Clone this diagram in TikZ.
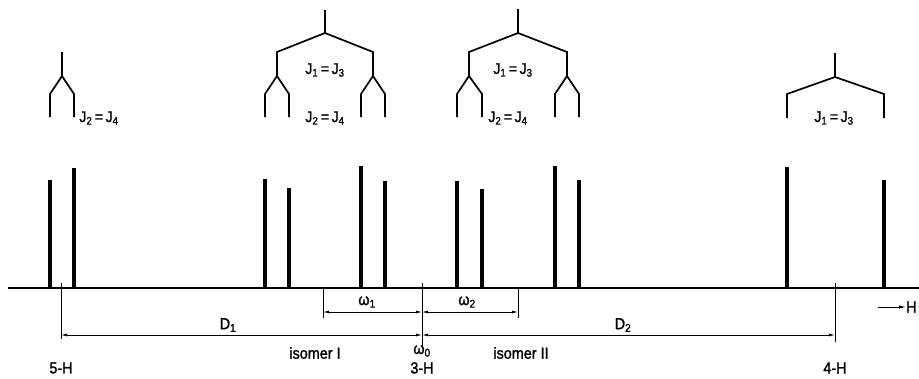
\documentclass[tikz,border=0pt]{standalone}
\usepackage{fontspec}
\setmainfont{Liberation Sans}
\newfontfamily\labfont[FakeStretch=0.9,FakeBold=1.5]{Liberation Sans}
\usetikzlibrary{arrows.meta}
\newcommand\lsub[1]{\textsubscript{#1}}
\begin{document}
\begin{tikzpicture}[x=1pt,y=-1pt,
  peak/.style={line width=3.6pt},
  tree/.style={line width=1.7pt, line join=miter},
  base/.style={line width=1.8pt},
  tickline/.style={line width=1pt},
  dimline/.style={line width=0.8pt, {Latex[length=6pt,width=3pt]}-{Latex[length=6pt,width=3pt]}},
  lab/.style={font=\labfont\fontsize{16}{18}\selectfont, inner sep=0pt},
  jlab/.style={font=\labfont\fontsize{15.5}{17}\selectfont, inner sep=0pt}]
\useasboundingbox (0,0) rectangle (919,378);

% baseline of the spectrum
\draw[base] (8,288) -- (919,288);

% lines of the spectrum
\foreach \px/\py in {50/180, 74/168, 265/179, 289/188, 361/166, 385/181,
                     457/181, 482/189, 555/166, 579/180, 787/167, 884/180}
  \draw[peak] (\px,288) -- (\px,\py);

% splitting pattern of 5-H
\draw[tree] (62,52) -- (62,76);
\draw[tree] (50,117) -- (50,94) -- (62,76) -- (74,94) -- (74,117);
\node[jlab] (j5) at (99,118) {J\lsub{2}\,=\,J\lsub{4}};

% splitting pattern of 3-H, isomer I
\draw[tree] (325,10) -- (325,33);
\draw[tree] (277,76) -- (277,52) -- (325,33) -- (373,52) -- (373,76);
\draw[tree] (265,117) -- (265,94) -- (277,76) -- (289,94) -- (289,117);
\draw[tree] (361,117) -- (361,94) -- (373,76) -- (385,94) -- (385,117);
\node[jlab] (ja1) at (325,70) {J\lsub{1}\,=\,J\lsub{3}};
\node[jlab] (ja2) at (325,118) {J\lsub{2}\,=\,J\lsub{4}};

% splitting pattern of 3-H, isomer II
\draw[tree] (518,9) -- (518,33);
\draw[tree] (469,76) -- (469,52) -- (518,33) -- (567,52) -- (567,76);
\draw[tree] (457,117) -- (457,94) -- (469,76) -- (482,94) -- (482,117);
\draw[tree] (555,117) -- (555,94) -- (567,76) -- (579,94) -- (579,117);
\node[jlab] (jb1) at (513,70) {J\lsub{1}\,=\,J\lsub{3}};
\node[jlab] (jb2) at (508,118) {J\lsub{2}\,=\,J\lsub{4}};

% splitting pattern of 4-H
\draw[tree] (835,53) -- (835,77);
\draw[tree] (787,118) -- (787,94) -- (835,77) -- (884,94) -- (884,118);
\node[jlab] (j4) at (834,118) {J\lsub{1}\,=\,J\lsub{3}};

% reference ticks below the baseline
\coordinate (h5t) at (61,283);  \coordinate (h5b) at (61,339);
\coordinate (h3t) at (422,283); \coordinate (h3b) at (422,348);
\coordinate (h4t) at (835,283); \coordinate (h4b) at (835,342);
\coordinate (w1t) at (323,289); \coordinate (w1b) at (323,318);
\coordinate (w2t) at (518,289); \coordinate (w2b) at (518,318);
\draw[tickline] (h5t) -- (h5b);
\draw[tickline] (h3t) -- (h3b);
\draw[tickline] (h4t) -- (h4b);
\draw[tickline] (w1t) -- (w1b);
\draw[tickline] (w2t) -- (w2b);

% dimension lines
\coordinate (w1a) at (323,312); \coordinate (w0a) at (422,312); \coordinate (w2a) at (518,312);
\coordinate (d5) at (61,335);   \coordinate (d0) at (422,335);  \coordinate (d4) at (835,335);
\draw[dimline] (w1a) -- (w0a);
\draw[dimline] (w0a) -- (w2a);
\draw[dimline] (d5) -- (d0);
\draw[dimline] (d0) -- (d4);

% labels
\node[lab] (lw1) at (367,302) {ω\lsub{1}};
\node[lab] (lw2) at (467,302) {ω\lsub{2}};
\node[lab] (ld1) at (228,325) {D\lsub{1}};
\node[lab] (ld2) at (623,325) {D\lsub{2}};
\node[lab] (iso1) at (315,353) {isomer I};
\node[lab] (iso2) at (521,353) {isomer II};
\node[lab] (lw0) at (422,351) {ω\lsub{0}};
\node[lab] (l5) at (61,368) {5-H};
\node[lab] (l3) at (422,368) {3-H};
\node[lab] (l4) at (835,368) {4-H};

% field direction
\node[lab, anchor=west] (fh) at (906,307) {H};
\coordinate (fa) at (878,307);
\draw[line width=1pt, -{Latex[length=7pt,width=3.5pt]}] (fa) -- (fh.west);
\end{tikzpicture}
\end{document}
